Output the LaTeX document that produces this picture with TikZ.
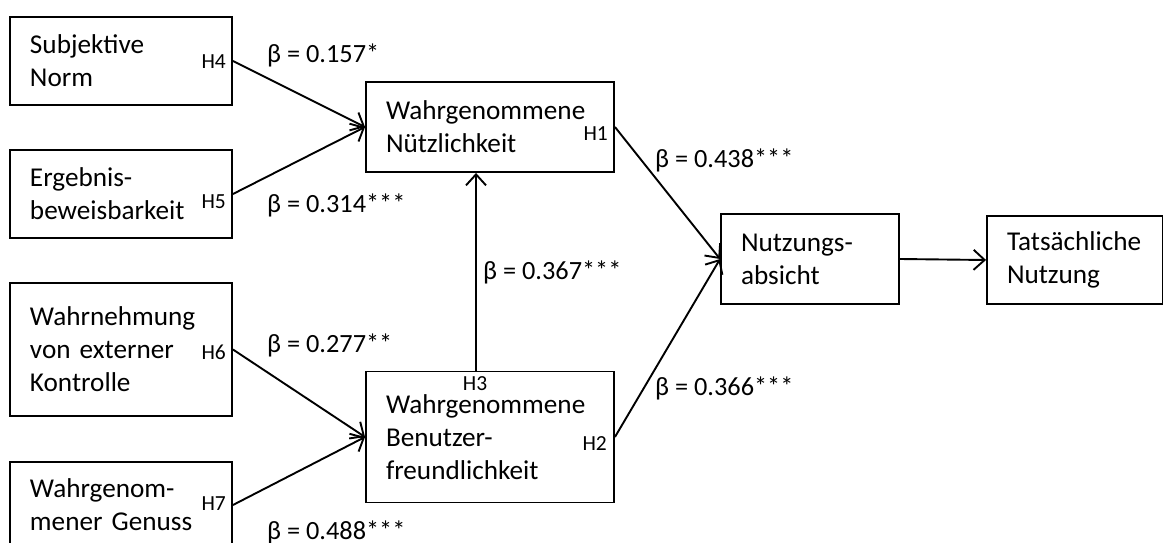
\documentclass[tikz,border=0pt]{standalone}
\usepackage{fontspec}
\setmainfont{Carlito}
\usetikzlibrary{arrows.meta}
\begin{document}
\begin{tikzpicture}[x=1pt,y=-1pt,
  box/.style={draw,line width=1.9pt,inner xsep=20pt,inner ysep=0pt,align=left,
    font=\fontsize{27.2}{33}\selectfont},
  hl/.style={font=\fontsize{21.5}{26}\selectfont,inner sep=0pt},
  bl/.style={font=\fontsize{26.3}{31}\selectfont,inner sep=0pt,anchor=base west},
  arr/.style={line width=1.9pt,-{Straight Barb[length=11pt,width=20pt]}}
]
\useasboundingbox (0,0) rectangle (1163,543);
\clip (0,0) rectangle (1163,543);
\fill[white] (0,0) rectangle (1163,543);

% boxes
\node[box,text width=182pt,minimum height=88pt] (sn) at (121,61) {Subjektive\\Norm};
\node[box,text width=182pt,minimum height=88pt] (eb) at (121,194) {Ergebnis-\\beweisbarkeit};
\node[box,text width=182pt,minimum height=133pt] (wk) at (121,349.5) {Wahrnehmung\\von externer\\Kontrolle};
\node[box,text width=182pt,minimum height=86pt] (wg) at (121,505) {Wahrgenom-\\mener Genuss};
\node[box,text width=208pt,minimum height=90pt] (wn) at (490,127) {Wahrgenommene\\N\"utzlichkeit};
\node[box,text width=208pt,minimum height=131pt] (wb) at (490,437) {Wahrgenommene\\Benutzer-\\freundlichkeit};
\node[box,text width=138pt,minimum height=90pt] (na) at (810,259) {Nutzungs-\\absicht};
\node[box,text width=136pt,minimum height=88pt] (tn) at (1075,260) {Tats\"achliche\\Nutzung};

% connectors
\draw[arr] (sn.east) -- (wn.west);
\draw[arr] (eb.east) -- (wn.west);
\draw[arr] (wk.east) -- (wb.west);
\draw[arr] (wg.east) -- (wb.west);
\draw[arr] ([xshift=-14pt]wb.north) -- ([xshift=-14pt]wn.south);
\draw[arr] (wn.east) -- (na.west);
\draw[arr] (wb.east) -- (na.west);
\draw[arr] (na.east) -- (tn.west);

% hypothesis labels
\node[hl,anchor=base east] (h4) at (226,69) {H4};
\node[hl,anchor=base east] (h5) at (226,208) {H5};
\node[hl,anchor=base east] (h6) at (226,359) {H6};
\node[hl,anchor=base east] (h7) at (226,510) {H7};
\node[hl,anchor=base east] (h1) at (608,140) {H1};
\node[hl,anchor=base east] (h2) at (607,450) {H2};
\node[hl,anchor=base] (h3) at (475,390) {H3};

% coefficients
\node[bl] (b4) at (267,63) {β = 0.157*};
\node[bl] (b5) at (267,212) {β = 0.314***};
\node[bl] (b6) at (267,352) {β = 0.277**};
\node[bl] (b7) at (267,539) {β = 0.488***};
\node[bl] (b3) at (483,279) {β = 0.367***};
\node[bl] (b1) at (655,167) {β = 0.438***};
\node[bl] (b2) at (655,395) {β = 0.366***};
\end{tikzpicture}
\end{document}
